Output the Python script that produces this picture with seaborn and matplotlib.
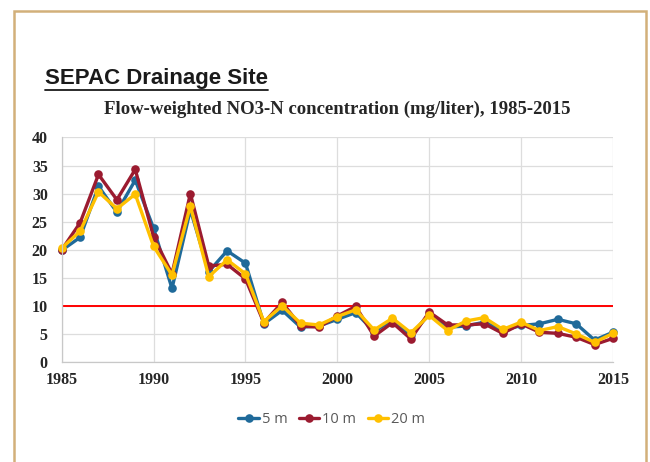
import matplotlib
matplotlib.use("Agg")
import matplotlib.pyplot as plt
from matplotlib.patches import Rectangle
from matplotlib.lines import Line2D
import seaborn as sns
import pandas as pd

# values
years = list(range(1985, 2016))
depth_5m = [19.9, 22.2, 31.3, 26.7, 32.4, 23.8, 13.1, 27.1, 16.1, 19.8, 17.6,
            6.8, 9.2, 6.2, 6.4, 7.6, 8.8, 5.4, 7.5, 4.8, 8.5,
            6.2, 6.4, 7.1, 5.6, 6.5, 6.8, 7.6, 6.8, 3.9, 5.3]
depth_10m = [20.0, 24.8, 33.4, 28.9, 34.3, 22.3, 15.7, 30.0, 17.1, 17.4, 14.8,
             7.0, 10.6, 6.4, 6.2, 8.2, 9.9, 4.6, 7.0, 4.1, 8.9,
             6.6, 6.6, 6.8, 5.1, 6.8, 5.3, 5.1, 4.4, 3.1, 4.2]
depth_20m = [20.3, 23.3, 30.3, 27.3, 29.9, 20.6, 15.5, 27.8, 15.2, 18.2, 15.7,
             7.2, 10.0, 6.9, 6.6, 8.1, 9.3, 5.7, 7.8, 5.2, 8.3,
             5.6, 7.3, 7.9, 5.8, 7.1, 5.6, 6.3, 5.0, 3.5, 5.1]
series_names = ["5 m", "10 m", "20 m"]
colors = ["#1F6A9A", "#9B1B30", "#FFC000"]
limit = 10

df = pd.DataFrame({
    "year": years * 3,
    "value": depth_5m + depth_10m + depth_20m,
    "depth": [n for n in series_names for _ in years],
})

sns.set_style("white")
fig = plt.figure(figsize=(6.5, 4.62), dpi=100)
ax = fig.add_axes([0.095, 0.2165, 0.848, 0.486])

sns.lineplot(data=df, x="year", y="value", hue="depth", hue_order=series_names,
             palette=colors, marker="o", markersize=6.2, markeredgewidth=0,
             linewidth=2.4, ax=ax, legend=True)
for ln in ax.lines:
    ln.set_clip_on(False)
ax.axhline(limit, color="#FF0000", linewidth=1.4, zorder=1)

ax.set_xlim(1985, 2015)
ax.set_ylim(0, 40)
ax.set_xticks(range(1985, 2016, 5))
ax.set_yticks(range(0, 41, 5))
ax.grid(True, color="#DDDDDD", linewidth=0.9)
ax.set_axisbelow(True)
for s in ["top", "right"]:
    ax.spines[s].set_visible(False)
for s in ["left", "bottom"]:
    ax.spines[s].set_color("#C8C8C8")
    ax.spines[s].set_linewidth(0.9)
ax.tick_params(length=0)
ax.tick_params(axis="y", pad=10)
ax.tick_params(axis="x", pad=7)
for lab in ax.get_xticklabels() + ax.get_yticklabels():
    lab.set_fontfamily("Liberation Serif")
    lab.set_fontweight("bold")
    lab.set_fontsize(11.5)
ax.set_xlabel("")
ax.set_ylabel("")

ax.set_title("Flow-weighted NO3-N concentration (mg/liter), 1985-2015",
             fontfamily="Liberation Serif", fontweight="bold", fontsize=13.5,
             pad=17)

handles, labels = ax.get_legend_handles_labels()
leg = ax.legend(handles, labels, loc="upper center", bbox_to_anchor=(0.49, -0.165),
                ncol=3, frameon=False, handlelength=1.4, handletextpad=0.2,
                columnspacing=0.8, prop={"family": "Open Sans", "size": 10.5})
for t in leg.get_texts():
    t.set_color("#595959")

# heading with underline
base_y = 0.818
head = fig.text(0.069, base_y, "SEPAC Drainage Site", fontfamily="Liberation Sans",
                fontweight="bold", fontsize=16, color="#1A1A1A", va="baseline")
fig.canvas.draw()
bb = head.get_window_extent().transformed(fig.transFigure.inverted())
fig.add_artist(Line2D([bb.x0, bb.x1], [base_y - 0.012, base_y - 0.012],
                      color="#1A1A1A", linewidth=1.3, transform=fig.transFigure))

# tan frame around the slide
fig.add_artist(Rectangle((13.5 / 650, -0.2), (646 - 13.5) / 650, 1.2 - 10.5 / 462,
                         transform=fig.transFigure, fill=False,
                         edgecolor="#D2B07A", linewidth=1.8, clip_on=False))

fig.savefig("out.png", dpi=100)
